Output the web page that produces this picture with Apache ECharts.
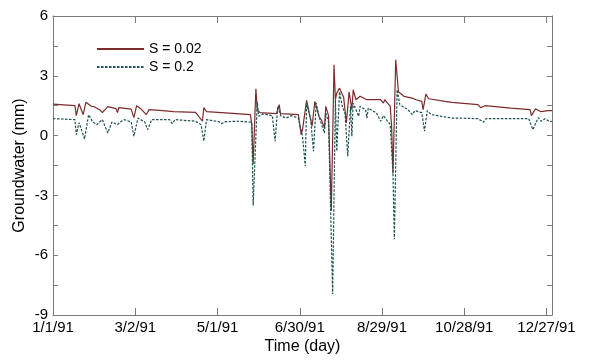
<!DOCTYPE html>
<html>
<head>
<meta charset="utf-8">
<script src="https://cdn.jsdelivr.net/npm/echarts@6/dist/echarts.min.js"></script>
<style>
  html, body { margin: 0; padding: 0; background: #ffffff; }
  #chart { width: 590px; height: 360px; }
</style>
</head>
<body>
<div id="chart"></div>
<script>
// Date labels for the x ticks (one every 60 days, day 0 = 1/1/91)
const dateLabels = ['1/1/91', '3/2/91', '5/1/91', '6/30/91', '8/29/91', '10/28/91', '12/27/91'];

// Groundwater (mm), storage coefficient S = 0.02
const daysS002 = [0,16,17,19,22,24,28,30,34,36, 40,43,46,47,48,57,59,61,64,68,
  70,80,88,104,109,110,112,123,144,145, 146,148,149,151,163,165,166,179,181,182,
  185,187,189,191,194,196,198,199,201,203, 205,206,207,209,212,214,216,218,219,221,
  224,229,230,239,241,242,246,247,248,250, 252,256,262,265,269,270,272,274,286,291,
  310,312,315,334,348,349,352,356,361,364];
const gwS002 = [1.58,1.5,1.0,1.6,1.05,1.67,1.47,1.45,1.3,1.15, 1.45,1.4,1.35,1.15,1.4,1.33,0.9,1.5,1.35,1.05,
  1.3,1.25,1.2,1.17,0.72,1.4,1.2,1.15,1.05,0.55, -1.45,2.35,1.3,1.15,1.1,1.55,1.1,1.05,0.05,0.3,
  1.77,1.1,0.47,1.72,0.97,0.75,0.38,1.47,1.0,-3.78, 3.55,1.8,2.13,2.38,1.93,0.63,2.2,1.3,2.3,1.8,
  1.97,1.8,1.88,1.8,1.63,1.8,1.47,0.47,-1.9,3.8, 2.2,1.97,1.88,1.8,1.72,1.3,2.08,1.85,1.72,1.67,
  1.55,1.4,1.5,1.38,1.3,1.0,1.35,1.2,1.25,1.25];

// Groundwater (mm), storage coefficient S = 0.2
const daysS02 = [0,16,17,19,23,26,29,32,36,40, 43,47,49,52,57,59,62,67,69,72,
  85,87,89,104,108,110,112,121,123,126, 136,145,146,149,150,153,156,160,162,164,
  166,170,174,179,182,184,185,188,190,192, 194,198,199,201,204,206,207,209,211,213,
  215,217,218,219,222,223,224,228,229,230, 236,239,241,246,248,249,251,253,259,262,
  264,269,271,273,276,291,292,294,310,314, 316,347,350,352,354,356,359,362,364];
const gwS02 = [0.85,0.8,0.05,0.65,-0.17,1.05,0.68,0.55,0.8,0.13, 0.68,0.55,0.68,0.8,0.68,-0.03,0.88,0.68,0.3,0.8,
  0.8,0.6,0.8,0.72,0.55,-0.28,0.8,0.7,0.6,0.7, 0.72,0.67,-3.5,1.7,0.97,1.08,1.05,1.0,-0.28,1.47,
  1.0,0.88,1.0,0.88,-0.03,-1.53,1.63,0.8,-0.78,1.63, 0.97,0.13,1.13,0.67,-7.95,1.8,-0.78,2.2,1.47,1.13,
  -1.03,1.47,-0.03,1.63,1.13,0.97,1.47,1.3,0.88,1.38, 1.13,0.72,1.0,0.55,-1.87,-5.2,2.3,1.55,1.3,1.05,
  1.25,1.15,0.22,1.25,1.05,0.88,0.8,0.88,0.85,0.67, 0.85,0.85,0.3,0.6,0.9,0.72,0.85,0.7,0.72];

const FONT = '"Liberation Sans", Arial, Helvetica, sans-serif';
const AXIS_GRAY = '#7a7a7a';
const RED = '#7d2b2b';
const TEAL = '#1c5050';

const xBase = {
  type: 'value', min: 0, max: 364, interval: 60,
  axisLine: { show: true, onZero: false, lineStyle: { color: AXIS_GRAY, width: 1 } },
  axisTick: { show: true, inside: true, length: 7, lineStyle: { color: AXIS_GRAY } },
  splitLine: { show: false }
};
const yBase = {
  type: 'value', min: -9, max: 6, interval: 1.5,
  axisLine: { show: true, onZero: false, lineStyle: { color: AXIS_GRAY, width: 1 } },
  axisTick: { show: true, inside: true, length: 5, lineStyle: { color: AXIS_GRAY } },
  splitLine: { show: false }
};

const chart = echarts.init(document.getElementById('chart'), null, { renderer: 'canvas' });
chart.setOption({
  animation: false,
  backgroundColor: '#ffffff',
  textStyle: { fontFamily: FONT },
  grid: { left: 53, right: 38, top: 16, bottom: 44, containLabel: false },
  legend: {
    orient: 'vertical', left: 91, top: 37,
    itemWidth: 47, itemHeight: 14, itemGap: 4,
    itemStyle: { opacity: 0 },
    textStyle: { fontFamily: FONT, fontSize: 14, color: '#000000' },
    data: ['S = 0.02', 'S = 0.2']
  },
  xAxis: [
    Object.assign({}, xBase, {
      position: 'bottom',
      name: 'Time (day)', nameLocation: 'middle', nameGap: 24, nameMoveOverlap: false,
      nameTextStyle: { fontFamily: FONT, fontSize: 16, color: '#000000' },
      axisLabel: {
        margin: 5, fontFamily: FONT, fontSize: 15, color: '#000000',
        formatter: v => (v % 60 === 0 ? dateLabels[v / 60] : '')
      }
    }),
    Object.assign({}, xBase, { position: 'top', axisLabel: { show: false } })
  ],
  yAxis: [
    Object.assign({}, yBase, {
      position: 'left',
      name: 'Groundwater (mm)', nameLocation: 'middle', nameGap: 25, nameRotate: 90,
      nameMoveOverlap: false,
      nameTextStyle: { fontFamily: FONT, fontSize: 16, color: '#000000' },
      axisLabel: {
        margin: 5, fontFamily: FONT, fontSize: 15, color: '#000000',
        formatter: v => (Math.abs(v % 3) < 1e-9 ? String(v) : '')
      }
    }),
    Object.assign({}, yBase, { position: 'right', axisLabel: { show: false } })
  ],
  series: [
    {
      name: 'S = 0.02', type: 'line', xAxisIndex: 0, yAxisIndex: 0,
      data: daysS002.map((d, i) => [d, gwS002[i]]),
      symbol: 'none', showSymbol: false,
      lineStyle: { color: RED, width: 1.2 },
      itemStyle: { color: RED }
    },
    {
      name: 'S = 0.2', type: 'line', xAxisIndex: 0, yAxisIndex: 0,
      data: daysS02.map((d, i) => [d, gwS02[i]]),
      symbol: 'none', showSymbol: false,
      lineStyle: { color: TEAL, width: 1.2, type: [2.5, 1.5] },
      itemStyle: { color: TEAL }
    }
  ]
});
</script>
</body>
</html>
